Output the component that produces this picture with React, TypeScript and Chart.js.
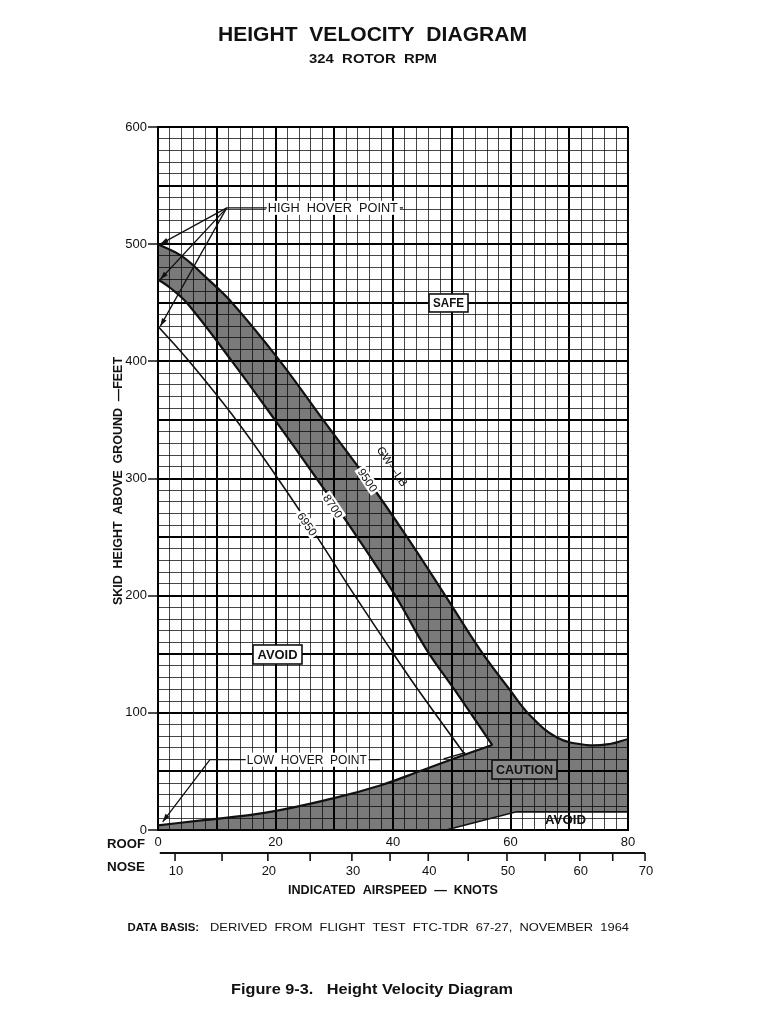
import { useEffect, useRef } from 'react';
import { Chart, registerables } from 'chart.js';

Chart.register(...registerables);

const FONT = '"Liberation Sans", Arial, Helvetica, sans-serif';

// ---------- data (roof-scale indicated airspeed in knots, skid height in feet) ----------
const gw9500Knots = [0, 4, 8.3, 12.6, 20.8, 28.1, 35.5, 42.4, 48.9, 54.8, 59.9, 63.3, 67.9, 73, 76.9, 80];
const gw9500Feet = [500, 490, 471, 450, 400, 350, 300, 250, 200, 154, 119.5, 98, 79, 72.5, 73.4, 77.7];

const gw8700Knots = [0, 2, 4.9, 12.6, 19.9, 27, 33.9, 40.4, 45.7, 50.5, 56.9];
const gw8700Feet = [470, 463, 450, 400, 350, 300, 250, 200, 154, 119.5, 72.5];

const gw6950Knots = [0, 5.3, 13.3, 20.4, 27.1, 33.5, 39.6, 44.3, 52.3];
const gw6950Feet = [430, 400, 350, 300, 250, 200, 154, 119.5, 64];

const lowCurveKnots = [0, 7, 18.6, 29.8, 37.8, 45, 52.3, 56.9];
const lowCurveFeet = [4, 8, 15, 27, 38, 51, 64.5, 72.5];

const lowBranchKnots = [48.6, 52.3];
const lowBranchFeet = [60.6, 66];

const avoidFloorKnots = [0, 49, 61, 80];
const avoidFloorFeet = [0, 0, 15.5, 15.5];

// ---------- axis ticks ----------
const roofTickLabels = [0, 20, 40, 60, 80];
const heightTickLabels = [0, 100, 200, 300, 400, 500, 600];
const noseTicks = [10, 15, 20, 25, 30, 35, 40, 45, 50, 55, 60, 65, 70];
const noseTicksOnRoof = [2.9, 10.9, 18.7, 25.9, 33, 39.5, 46, 52.8, 59.4, 65.9, 71.8, 77.4, 82.9];
const noseTickLabels = [10, 20, 30, 40, 50, 60, 70];

// ---------- label anchors (data units) ----------
const highHoverOrigin = { x: 11.7, y: 531 };
const highHoverTargets = [
  { x: 0.4, y: 500 },
  { x: 0.4, y: 470 },
  { x: 0.4, y: 430 },
];
const highHoverText = { x: 18.7, y: 531, end: 41.7 };
const lowHoverTip = { x: 0.8, y: 7 };
const lowHoverElbow = { x: 8.85, y: 60 };
const lowHoverText = { x: 15.1, y: 60, end: 37.8 };

const regionLabels = [
  { text: 'SAFE', x: 49.45, y: 449.8, w: 39, h: 18, tw: 31, fill: '#ffffff' },
  { text: 'AVOID', x: 20.34, y: 149.8, w: 49, h: 19, tw: 40, fill: '#ffffff' },
  { text: 'CAUTION', x: 62.38, y: 51.6, w: 65, h: 19, tw: 57, fill: '#888888' },
];
const avoidBottomLabel = { text: 'AVOID', x: 69.36, y: 8.5, tw: 41 };

const curveLabels = [
  { text: 'GW\u2014LB', x: 39.9, y: 310.5, bg: false },
  { text: '9500', x: 35.7, y: 298.7, bg: true },
  { text: '8700', x: 29.8, y: 276.5, bg: true },
  { text: '6950', x: 25.4, y: 261.2, bg: true },
];

const pts = (xs: number[], ys: number[]) => xs.map((x, i) => ({ x, y: ys[i] }));

function shadedOutline() {
  const upper = pts(gw9500Knots, gw9500Feet);
  const floor = pts(avoidFloorKnots, avoidFloorFeet).reverse();
  const low = pts(lowCurveKnots, lowCurveFeet);
  const lower = pts(gw8700Knots, gw8700Feet).reverse();
  const out: { x: number; y: number }[] = [];
  upper.forEach((p) => out.push(p));
  out.push({ ...upper[upper.length - 1] });
  floor.forEach((p) => {
    out.push(p);
    out.push({ ...p });
  });
  out.push({ ...low[0] });
  low.forEach((p) => out.push(p));
  lower.forEach((p) => out.push(p));
  return out;
}

function fitText(
  ctx: CanvasRenderingContext2D,
  text: string,
  left: number,
  capMid: number,
  width: number,
  size: number,
  weight = 'normal',
  color = '#111'
) {
  ctx.save();
  ctx.font = `${weight} ${size}px ${FONT}`;
  const w = ctx.measureText(text).width;
  ctx.translate(left, capMid + size * 0.716 / 2);
  ctx.scale(width / w, 1);
  ctx.textAlign = 'left';
  ctx.textBaseline = 'alphabetic';
  ctx.fillStyle = color;
  ctx.fillText(text, 0, 0);
  ctx.restore();
}

function arrowHead(ctx: CanvasRenderingContext2D, fx: number, fy: number, tx: number, ty: number) {
  const a = Math.atan2(ty - fy, tx - fx);
  const len = 8;
  const hw = 2.6;
  ctx.save();
  ctx.translate(tx, ty);
  ctx.rotate(a);
  ctx.beginPath();
  ctx.moveTo(0, 0);
  ctx.lineTo(-len, -hw);
  ctx.lineTo(-len, hw);
  ctx.closePath();
  ctx.fillStyle = '#111';
  ctx.fill();
  ctx.restore();
}

const decor = {
  id: 'decor',
  afterDatasetsDraw(chart: any) {
    const ctx: CanvasRenderingContext2D = chart.ctx;
    const xs = chart.scales.x;
    const ys = chart.scales.y;
    const P = (p: { x: number; y: number }) => ({ x: xs.getPixelForValue(p.x), y: ys.getPixelForValue(p.y) });

    ctx.save();
    ctx.strokeStyle = '#111';
    ctx.lineWidth = 1.3;

    // HIGH HOVER POINT
    const o = P(highHoverOrigin);
    highHoverTargets.forEach((t) => {
      const tp = P(t);
      ctx.beginPath();
      ctx.moveTo(o.x, o.y);
      ctx.lineTo(tp.x, tp.y);
      ctx.stroke();
      arrowHead(ctx, o.x, o.y, tp.x, tp.y);
    });
    const hl = xs.getPixelForValue(highHoverText.x);
    const hw = 130;
    const hy = ys.getPixelForValue(highHoverText.y);
    ctx.fillStyle = '#fff';
    ctx.fillRect(hl - 2, hy - 7, hw + 4, 14);
    ctx.beginPath();
    ctx.moveTo(o.x, o.y);
    ctx.lineTo(hl - 1, hy);
    ctx.moveTo(hl + hw + 2, hy);
    ctx.lineTo(xs.getPixelForValue(highHoverText.end), hy);
    ctx.stroke();
    fitText(ctx, 'HIGH  HOVER  POINT', hl, hy, hw, 12);

    // LOW HOVER POINT
    const lt = P(lowHoverTip);
    const le = P(lowHoverElbow);
    const ll = xs.getPixelForValue(lowHoverText.x);
    const lw = 120;
    const ly = ys.getPixelForValue(lowHoverText.y);
    ctx.fillStyle = '#fff';
    ctx.fillRect(ll - 2, ly - 7, lw + 4, 14);
    ctx.beginPath();
    ctx.moveTo(lt.x, lt.y);
    ctx.lineTo(le.x, le.y);
    ctx.lineTo(ll - 1, ly);
    ctx.moveTo(ll + lw + 2, ly);
    ctx.lineTo(xs.getPixelForValue(lowHoverText.end), ly);
    ctx.stroke();
    arrowHead(ctx, le.x, le.y, lt.x, lt.y);
    fitText(ctx, 'LOW  HOVER  POINT', ll, ly, lw, 12);

    // region boxes
    regionLabels.forEach((r) => {
      const c = P(r);
      ctx.fillStyle = r.fill;
      ctx.fillRect(c.x - r.w / 2, c.y - r.h / 2, r.w, r.h);
      ctx.lineWidth = 1.6;
      ctx.strokeStyle = '#111';
      ctx.strokeRect(c.x - r.w / 2, c.y - r.h / 2, r.w, r.h);
      fitText(ctx, r.text, c.x - r.tw / 2, c.y, r.tw, 12, 'bold', '#111');
    });
    const ab = P(avoidBottomLabel);
    fitText(ctx, avoidBottomLabel.text, ab.x - avoidBottomLabel.tw / 2, ab.y, avoidBottomLabel.tw, 12, 'bold', '#111');

    // rotated curve labels
    const ang = (56 * Math.PI) / 180;
    curveLabels.forEach((l) => {
      const c = P(l);
      ctx.save();
      ctx.translate(c.x, c.y);
      ctx.rotate(ang);
      ctx.font = `normal 11.5px ${FONT}`;
      const w = ctx.measureText(l.text).width;
      if (l.bg) {
        ctx.fillStyle = '#fff';
        ctx.fillRect(-w / 2 - 2, -6, w + 4, 12);
      }
      ctx.fillStyle = '#111';
      ctx.textAlign = 'center';
      ctx.textBaseline = 'alphabetic';
      ctx.fillText(l.text, 0, 11.5 * 0.358);
      ctx.restore();
    });
    ctx.restore();
  },
  afterDraw(chart: any) {
    const ctx: CanvasRenderingContext2D = chart.ctx;
    const xs = chart.scales.x;
    const area = chart.chartArea;

    // titles
    fitText(ctx, 'HEIGHT  VELOCITY  DIAGRAM', 218, 33.2, 309, 21, 'bold', '#111');
    fitText(ctx, '324  ROTOR  RPM', 309, 58.7, 128, 13, 'bold', '#111');

    // ROOF / NOSE captions
    fitText(ctx, 'ROOF', 107, 843, 38, 13, 'bold', '#111');
    fitText(ctx, 'NOSE', 107, 866, 38, 13, 'bold', '#111');

    // NOSE airspeed scale, drawn through the roof x scale
    const y0 = area.bottom + 23;
    ctx.save();
    ctx.strokeStyle = '#111';
    ctx.lineWidth = 2;
    ctx.beginPath();
    ctx.moveTo(xs.getPixelForValue(0.3), y0);
    ctx.lineTo(xs.getPixelForValue(noseTicksOnRoof[noseTicksOnRoof.length - 1]), y0);
    ctx.stroke();
    ctx.lineWidth = 1.6;
    noseTicks.forEach((t, i) => {
      const px = xs.getPixelForValue(noseTicksOnRoof[i]);
      ctx.beginPath();
      ctx.moveTo(px, y0);
      ctx.lineTo(px, y0 + 8);
      ctx.stroke();
      if (noseTickLabels.includes(t)) {
        ctx.font = `normal 13px ${FONT}`;
        ctx.fillStyle = '#111';
        ctx.textAlign = 'center';
        ctx.textBaseline = 'alphabetic';
        ctx.fillText(String(t), px + 1, y0 + 17 + 13 * 0.358);
      }
    });
    ctx.restore();

    // axis titles
    fitText(ctx, 'INDICATED  AIRSPEED  \u2014  KNOTS', 288, 889, 210, 13, 'bold', '#111');
    ctx.save();
    ctx.translate(118, 481);
    ctx.rotate(-Math.PI / 2);
    fitText(ctx, 'SKID  HEIGHT  ABOVE  GROUND  \u2014FEET', -124, 0, 248, 12, 'bold', '#111');
    ctx.restore();

    // notes
    fitText(ctx, 'DATA BASIS:', 127.5, 927, 71.5, 11.5, 'bold', '#111');
    fitText(ctx, 'DERIVED  FROM  FLIGHT  TEST  FTC-TDR  67-27,  NOVEMBER  1964', 210, 927, 419, 11.5, 'normal', '#111');
    fitText(ctx, 'Figure 9-3.   Height Velocity Diagram', 231, 989, 282, 14, 'bold', '#111');
  },
};

export default function App() {
  const ref = useRef<HTMLCanvasElement>(null);

  useEffect(() => {
    if (!ref.current) return;
    const lineBase = {
      showLine: true,
      pointRadius: 0,
      pointHoverRadius: 0,
      tension: 0.4,
      fill: false,
      borderColor: '#111',
      order: 1,
    };
    const chart = new Chart(ref.current, {
      type: 'scatter',
      data: {
        datasets: [
          {
            label: 'shaded',
            data: shadedOutline(),
            showLine: true,
            pointRadius: 0,
            pointHoverRadius: 0,
            tension: 0.4,
            borderWidth: 0,
            borderColor: 'rgba(0,0,0,0)',
            backgroundColor: 'rgba(0,0,0,0.52)',
            fill: 'shape',
            order: 5,
          } as any,
          { ...lineBase, label: 'GW 9500', data: pts(gw9500Knots, gw9500Feet), borderWidth: 2.2 },
          { ...lineBase, label: 'GW 8700', data: pts(gw8700Knots, gw8700Feet), borderWidth: 2.2 },
          { ...lineBase, label: 'GW 6950', data: pts(gw6950Knots, gw6950Feet), borderWidth: 1.6 },
          { ...lineBase, label: 'low', data: pts(lowCurveKnots, lowCurveFeet), borderWidth: 2.2 },
          { ...lineBase, label: 'low branch', data: pts(lowBranchKnots, lowBranchFeet), borderWidth: 1.4, tension: 0 },
          { ...lineBase, label: 'floor', data: pts(avoidFloorKnots, avoidFloorFeet), borderWidth: 1.6, tension: 0 },
        ],
      },
      options: {
        responsive: false,
        devicePixelRatio: 1,
        animation: false,
        events: [],
        layout: { padding: { top: 127, right: 140, bottom: 174, left: 0 } },
        plugins: {
          legend: { display: false },
          tooltip: { enabled: false },
          title: { display: false },
        },
        scales: {
          x: {
            type: 'linear',
            min: 0,
            max: 80,
            afterFit: (s: any) => {
              s.height = 20;
            },
            ticks: {
              stepSize: 2,
              autoSkip: false,
              maxRotation: 0,
              padding: 5,
              color: '#111',
              font: { family: FONT, size: 13 },
              callback: (v: any) => (roofTickLabels.includes(Number(v)) ? String(v) : ''),
            },
            grid: {
              drawTicks: false,
              color: (c: any) => (c.tick && c.tick.value % 10 === 0 ? '#000' : 'rgba(0,0,0,0.72)'),
              lineWidth: (c: any) => (c.tick && c.tick.value % 10 === 0 ? 2 : 1),
            },
            border: { display: true, color: '#000', width: 2 },
          },
          y: {
            type: 'linear',
            min: 0,
            max: 600,
            afterFit: (s: any) => {
              s.width = 158;
            },
            ticks: {
              stepSize: 10,
              autoSkip: false,
              padding: 1,
              color: '#111',
              font: { family: FONT, size: 13 },
              callback: (v: any) => (heightTickLabels.includes(Number(v)) ? String(v) : ''),
            },
            grid: {
              tickLength: 10,
              tickWidth: 1.5,
              tickColor: (c: any) => (c.tick && c.tick.value % 100 === 0 ? '#111' : 'rgba(0,0,0,0)'),
              color: (c: any) => (c.tick && c.tick.value % 50 === 0 ? '#000' : 'rgba(0,0,0,0.72)'),
              lineWidth: (c: any) => (c.tick && c.tick.value % 50 === 0 ? 2 : 1),
            },
            border: { display: true, color: '#000', width: 2 },
          },
        },
      } as any,
      plugins: [decor],
    });
    return () => chart.destroy();
  }, []);

  return (
    <div style={{ position: 'absolute', left: 0, top: 0, width: 768, height: 1024, background: '#fff' }}>
      <canvas ref={ref} width={768} height={1024} style={{ display: 'block', width: 768, height: 1024 }} />
    </div>
  );
}
